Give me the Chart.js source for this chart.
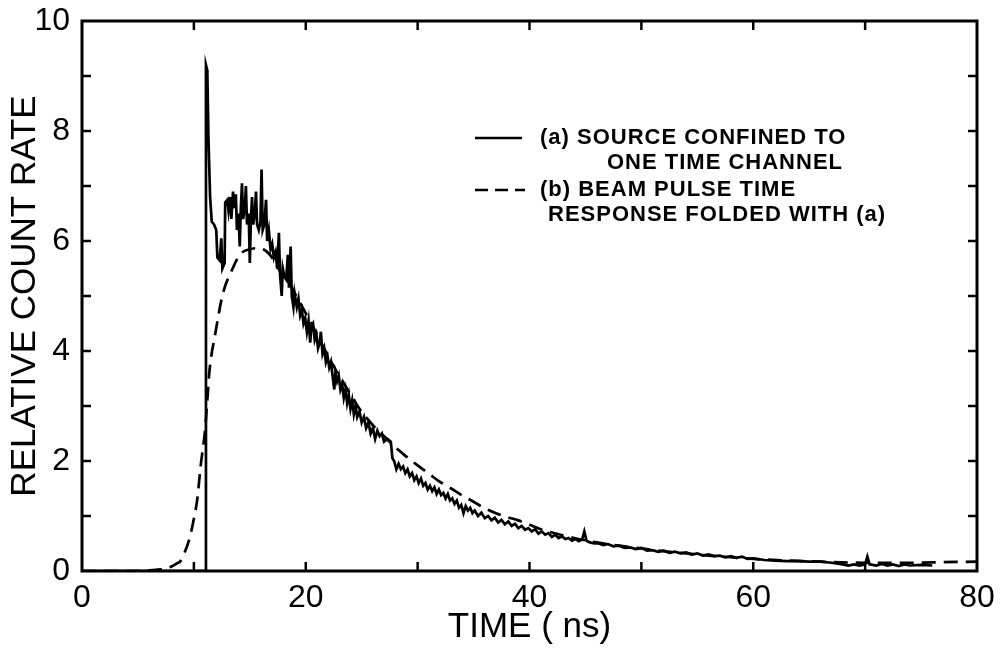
<!DOCTYPE html>
<html>
<head>
<meta charset="utf-8">
<script src="https://cdn.jsdelivr.net/npm/chart.js@4/dist/chart.umd.min.js"></script>
<style>
  html, body { margin: 0; padding: 0; background: #fff; }
  #wrap { width: 1004px; height: 649px; }
</style>
</head>
<body>
<div id="wrap"><canvas id="c" width="1004" height="649"></canvas></div>
<script>
// (a) source confined to one time channel: time (ns) and relative count rate
const timeA = [0, 11.05, 11.08, 11.2, 11.3, 11.45, 11.6, 11.8, 12.0, 12.1, 12.3, 12.45, 12.55, 12.75, 12.8,
  13.0, 13.1, 13.25, 13.35, 13.5, 13.6, 13.75, 13.85, 14.0, 14.1, 14.2, 14.3, 14.4, 14.55, 14.65, 14.75, 14.9,
  15.0, 15.1, 15.2, 15.3, 15.45, 15.55, 15.65, 15.8, 15.95, 16.05, 16.15, 16.3, 16.45, 16.55, 16.7, 16.85,
  17.0, 17.15, 17.3, 17.45, 17.6, 17.7, 17.85, 17.95, 18.1, 18.25, 18.4, 18.5, 18.65, 18.75, 18.9,
  19.0, 19.2, 19.35, 19.5, 19.65, 19.8, 19.95, 20.1, 20.25, 20.4, 20.5, 20.65, 20.8, 20.95,
  21.1, 21.25, 21.35, 21.5, 21.65, 21.8, 21.95, 22.1, 22.25, 22.4, 22.55, 22.65, 22.8, 22.95,
  23.1, 23.25, 23.4, 23.55, 23.7, 23.85, 24.0, 24.15, 24.3, 24.45, 24.6, 24.8,
  25.0, 25.2, 25.4, 25.6, 25.8, 26.0, 26.2, 26.4, 26.6, 26.8, 27.0, 27.3, 27.6, 27.75, 27.9,
  28.1, 28.3, 28.5, 28.7, 28.9, 29.1, 29.3, 29.5, 29.7, 29.9, 30.1, 30.3, 30.5, 30.7, 30.9,
  31.1, 31.3, 31.5, 31.7, 31.9, 32.1, 32.3, 32.5, 32.7, 32.9, 33.1, 33.3, 33.5, 33.7, 33.9,
  34.1, 34.3, 34.5, 34.7, 34.9, 35.1, 35.4, 35.7, 36.0, 36.3, 36.6, 36.9, 37.2, 37.5, 37.8,
  38.1, 38.4, 38.7, 39.0, 39.3, 39.6, 39.9, 40.2, 40.5, 40.8, 41.1, 41.4, 41.7, 42.0, 42.3, 42.6, 42.9,
  43.2, 43.5, 43.8, 44.1, 44.4, 44.7, 44.9, 45.1, 45.4, 45.8, 46.2, 46.6, 47.0, 47.5, 48.0, 48.5,
  49.0, 49.5, 50.0, 50.5, 51.0, 51.5, 52.0, 52.5, 53.0, 53.5, 54.0, 54.5, 55.0, 55.5, 56.0, 56.5,
  57.0, 57.5, 58.0, 58.5, 59.0, 59.5, 60.0, 61.0, 62.0, 63.0, 64.0, 65.0, 66.0, 67.0, 68.0, 68.5,
  69.0, 69.5, 70.0, 70.2, 70.4, 71.0, 71.5, 72.0, 72.5, 73.0, 73.5, 74.0, 75.0, 76.0];
const rateA = [0, 0, 9.2, 9.1, 7.9, 6.8, 6.35, 6.3, 6.2, 5.7, 5.65, 6.05, 5.5, 5.6, 6.7,
  6.75, 6.55, 6.8, 6.4, 6.9, 6.6, 6.85, 6.2, 6.5, 5.9, 6.6, 7.05, 6.4, 6.6, 7.0, 6.3, 6.5,
  5.6, 6.4, 6.8, 6.3, 6.5, 6.9, 6.3, 6.2, 6.35, 7.3, 6.2, 6.3, 6.75, 6.0, 6.2, 5.85,
  5.95, 5.7, 5.8, 5.5, 6.15, 5.4, 5.0, 5.5, 5.35, 5.3, 5.75, 5.15, 5.9, 5.0, 4.8,
  5.05, 4.8, 4.95, 4.65, 4.75, 4.5, 4.6, 4.35, 4.55, 4.15, 4.45, 4.5, 4.2, 4.3,
  4.05, 4.15, 4.35, 3.95, 4.05, 3.8, 3.9, 3.7, 3.8, 3.55, 3.3, 3.6, 3.45, 3.55,
  3.3, 3.4, 3.15, 3.3, 3.05, 3.2, 2.95, 3.1, 2.85, 3.0, 2.8, 2.9,
  2.7, 2.8, 2.6, 2.7, 2.5, 2.6, 2.4, 2.55, 2.45, 2.5, 2.35, 2.4, 2.35, 2.05, 2.0,
  1.85, 1.95, 1.85, 1.9, 1.78, 1.85, 1.72, 1.78, 1.65, 1.72, 1.6, 1.68, 1.55, 1.6, 1.48,
  1.55, 1.45, 1.52, 1.4, 1.48, 1.38, 1.42, 1.32, 1.4, 1.28, 1.32, 1.22, 1.28, 1.15, 1.2,
  1.05, 1.18, 1.1, 1.15, 1.05, 1.1, 1.0, 1.06, 0.96, 1.0, 0.92, 0.97, 0.88, 0.93, 0.85,
  0.9, 0.82, 0.86, 0.78, 0.82, 0.75, 0.78, 0.72, 0.76, 0.68, 0.72, 0.66, 0.69, 0.62, 0.66, 0.6, 0.63,
  0.58, 0.6, 0.55, 0.58, 0.54, 0.57, 0.72, 0.55, 0.52, 0.5, 0.5, 0.47, 0.49, 0.45, 0.46, 0.42,
  0.43, 0.4, 0.42, 0.37, 0.38, 0.35, 0.37, 0.33, 0.35, 0.32, 0.34, 0.3, 0.32, 0.28, 0.3, 0.27,
  0.28, 0.25, 0.27, 0.24, 0.26, 0.22, 0.23, 0.2, 0.19, 0.18, 0.18, 0.17, 0.17, 0.15, 0.12, 0.1,
  0.12, 0.1, 0.12, 0.26, 0.12, 0.1, 0.13, 0.1, 0.12, 0.09, 0.12, 0.1, 0.11, 0.1];

// (b) beam pulse time response folded with (a)
const timeB = [0, 5, 6, 7, 7.5, 8, 8.5, 8.8, 9.2, 9.65, 10.0, 10.3, 10.6, 11.0, 11.2, 11.4, 11.9, 12.6,
  13.4, 14.1, 15.0, 15.9, 16.8, 17.7, 18.6, 19.5, 20.5, 21.5, 22.5, 23.5, 24.8, 26.0, 27.0, 28.0,
  29.0, 30.0, 31.0, 32.0, 33.0, 34.0, 35.0, 36.0, 37.0, 38.0, 39.0, 40.0, 41.0, 42.0, 44, 46, 48,
  50, 52, 54, 56, 58, 60, 63, 66, 70, 74, 77, 80];
const rateB = [0, 0, 0.01, 0.03, 0.05, 0.08, 0.14, 0.18, 0.35, 0.62, 0.95, 1.3, 1.9, 2.56, 3.1, 3.65, 4.3, 5.05,
  5.47, 5.75, 5.85, 5.87, 5.75, 5.45, 5.2, 4.87, 4.5, 4.1, 3.72, 3.38, 2.95, 2.65, 2.45, 2.25,
  2.08, 1.92, 1.77, 1.62, 1.5, 1.37, 1.26, 1.14, 1.05, 0.98, 0.92, 0.84, 0.76, 0.7, 0.6, 0.52, 0.46,
  0.41, 0.36, 0.32, 0.28, 0.25, 0.22, 0.19, 0.17, 0.15, 0.15, 0.16, 0.17];

// Axis tick labels
const xTickLabels = [0, 20, 40, 60, 80];
const yTickLabels = [0, 2, 4, 6, 8, 10];

// Legend text
const legendA = ['(a) SOURCE CONFINED TO', 'ONE TIME CHANNEL'];
const legendB = ['(b) BEAM PULSE TIME', 'RESPONSE FOLDED WITH (a)'];

const ptsA = timeA.map((t, i) => ({ x: t, y: rateA[i] }));
const ptsB = timeB.map((t, i) => ({ x: t, y: rateB[i] }));

// Boxed frame with inward tick marks on all four sides
const framePlugin = {
  id: 'frame',
  afterDatasetsDraw(chart) {
    const { ctx, chartArea: a, scales: { x, y } } = chart;
    ctx.save();
    ctx.strokeStyle = '#000';
    ctx.lineWidth = 3;
    ctx.strokeRect(a.left, a.top, a.right - a.left, a.bottom - a.top);
    ctx.lineWidth = 2.5;
    const len = 9;
    ctx.beginPath();
    x.ticks.forEach(t => {
      const px = x.getPixelForValue(t.value);
      if (px <= a.left + 1 || px >= a.right - 1) return;
      ctx.moveTo(px, a.bottom); ctx.lineTo(px, a.bottom - len);
      ctx.moveTo(px, a.top); ctx.lineTo(px, a.top + len);
    });
    y.ticks.forEach(t => {
      const py = y.getPixelForValue(t.value);
      if (py <= a.top + 1 || py >= a.bottom - 1) return;
      ctx.moveTo(a.left, py); ctx.lineTo(a.left + len, py);
      ctx.moveTo(a.right, py); ctx.lineTo(a.right - len, py);
    });
    ctx.stroke();
    ctx.restore();
  }
};

// Two-entry legend with wrapped descriptions
const legendPlugin = {
  id: 'noteLegend',
  afterDraw(chart) {
    const { ctx } = chart;
    ctx.save();
    ctx.fillStyle = '#000';
    ctx.strokeStyle = '#000';
    ctx.font = 'bold 22px "Liberation Sans", Arial, sans-serif';
    if ('letterSpacing' in ctx) ctx.letterSpacing = '1px';
    ctx.textBaseline = 'middle';
    ctx.textAlign = 'left';
    ctx.lineWidth = 2.5;
    // solid sample
    ctx.beginPath(); ctx.moveTo(475, 138); ctx.lineTo(522, 138); ctx.stroke();
    ctx.fillText(legendA[0], 540, 138);
    ctx.fillText(legendA[1], 607, 163);
    // dashed sample
    ctx.setLineDash([13, 7]);
    ctx.beginPath(); ctx.moveTo(475, 190); ctx.lineTo(525, 190); ctx.stroke();
    ctx.setLineDash([]);
    ctx.fillText(legendB[0], 540, 190);
    ctx.fillText(legendB[1], 548, 215);
    ctx.restore();
  }
};

const tickFont = { family: '"Liberation Sans", Arial, sans-serif', size: 32 };
const titleFont = { family: '"Liberation Sans", Arial, sans-serif', size: 35, lineHeight: 1 };

new Chart(document.getElementById('c'), {
  type: 'line',
  data: {
    datasets: [
      { label: 'a', data: ptsA, borderColor: '#000', borderWidth: 2.7, pointRadius: 0, tension: 0, fill: false },
      { label: 'b', data: ptsB, borderColor: '#000', borderWidth: 2.7, borderDash: [14, 8], pointRadius: 0,
        cubicInterpolationMode: 'monotone', fill: false }
    ]
  },
  options: {
    responsive: false,
    animation: false,
    devicePixelRatio: 1,
    layout: { padding: { left: 0, right: 27, top: 21, bottom: 0 } },
    plugins: { legend: { display: false }, tooltip: { enabled: false } },
    scales: {
      x: {
        type: 'linear', min: 0, max: 80,
        grid: { display: false, drawTicks: false },
        border: { display: false },
        ticks: {
          stepSize: 10, autoSkip: false, maxRotation: 0, color: '#000', font: tickFont, padding: 8,
          callback: v => xTickLabels.includes(v) ? String(v) : ''
        },
        title: { display: true, text: 'TIME ( ns)', color: '#000', font: titleFont, padding: { top: 0, bottom: 4 } },
        afterFit: s => { s.height = 78; s.paddingLeft = 0; s.paddingRight = 0; }
      },
      y: {
        min: 0, max: 10,
        grid: { display: false, drawTicks: false },
        border: { display: false },
        ticks: {
          stepSize: 1, autoSkip: false, color: '#000', font: tickFont, padding: 12,
          callback: v => yTickLabels.includes(v) ? String(v) : ''
        },
        title: { display: true, text: 'RELATIVE COUNT RATE', color: '#000', font: titleFont, padding: { top: 8, bottom: 0 } },
        afterFit: s => { s.width = 82; s.paddingTop = 0; s.paddingBottom = 0; }
      }
    }
  },
  plugins: [framePlugin, legendPlugin]
});
</script>
</body>
</html>
